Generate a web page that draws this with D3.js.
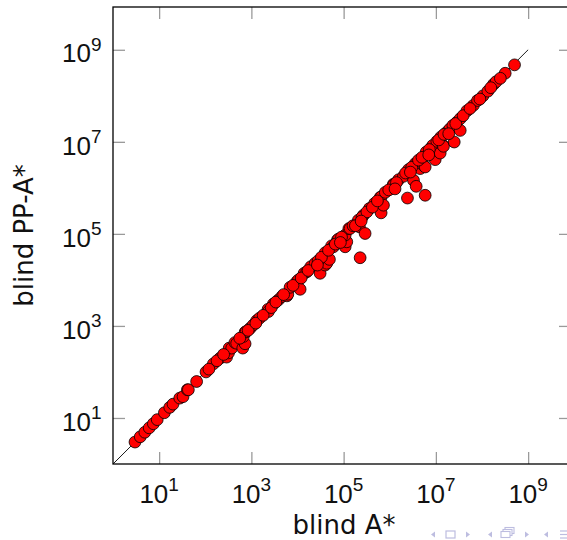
<!DOCTYPE html>
<html>
<head>
<meta charset="utf-8">
<script src="https://cdn.jsdelivr.net/npm/d3@7/dist/d3.min.js"></script>
<style>
  body { margin: 0; background: #fff; }
  svg { display: block; }
</style>
</head>
<body>
<div id="chart"></div>
<script>
// nodes expanded: blind A* (x) vs blind PP-A* (y)
var blindA = [
  3.0, 3.9, 4.9, 6.1, 7.5, 9.1, 13, 17, 20, 28, 33, 41, 43, 65, 104, 150, 210, 290, 320, 330,
  375, 440, 480, 650, 730, 670, 730, 770, 940, 1100, 1300, 1500, 2300, 2340, 3000, 3850, 4560,
  5900, 6170, 6900, 9660, 10500, 11400, 13900, 15900, 19400, 24100, 30900, 39700, 39700, 43000,
  49200, 55000, 60100, 73400, 77000, 108000, 117000, 108000, 130000, 138000, 209000, 220000,
  228000, 269000, 292000, 363000, 470000, 620000, 650000, 650000, 730000, 800000,
  1.2e6, 1.2e6, 1.55e6, 1.98e6, 2.42e6, 2.55e6, 3.27e6, 3.56e6, 3.74e6, 3.87e6, 4.56e6, 5.38e6,
  5.86e6, 5.86e6, 6.17e6, 8.2e6, 8.6e6, 9.66e6, 1.05e7, 1.24e7, 1.28e7, 1.42e7, 1.46e7, 1.73e7,
  2.0e7, 2.34e7, 2.5e7, 2.86e7, 3.37e7, 3.37e7, 4.7e7, 6.5e7, 8.0e7, 1.05e8, 1.34e8, 1.78e8,
  2.03e8, 3.18e8, 5.07e8,
  120, 180, 250, 560, 850, 1250, 1800, 2700, 3400, 5000, 8000, 12000, 17000, 28000, 33000,
  47000, 66000, 90000, 160000, 180000, 250000, 320000, 420000, 540000, 950000, 1.4e6, 2.2e6,
  3.0e6, 4.2e6, 5.0e6, 7.2e6, 1.15e7, 1.5e7, 2.7e7, 3.9e7, 5.5e7, 9.0e7, 1.55e8, 2.5e8,
  27000, 85000, 240000, 1.3e6, 2.8e6, 7.0e6, 1.9e7
];
var blindPPA = [
  3.0, 3.9, 4.9, 6.1, 7.5, 9.2, 13, 17, 20, 27, 29, 41, 41, 62, 100, 150, 200, 210, 260, 330,
  330, 435, 420, 330, 410, 590, 730, 755, 890, 1050, 1300, 1470, 2300, 2050, 3000, 3670, 4330,
  4500, 4880, 6900, 9140, 10000, 6250, 13900, 15000, 19300, 22900, 13900, 21000, 38800, 23000,
  27900, 55000, 52400, 73300, 77000, 52400, 67300, 94000, 130000, 131000, 199000, 142000,
  30300, 255000, 102000, 356000, 460000, 617000, 635000, 286000, 420000, 800000,
  1.2e6, 1.14e6, 1.5e6, 1.78e6, 6.0e5, 2.49e6, 1.46e6, 3.36e6, 1.08e6, 3.36e6, 2.62e6, 3.09e6,
  6.9e5, 2.84e6, 6.0e6, 7.7e6, 8.4e6, 4.1e6, 1.02e7, 5.7e6, 1.27e7, 8.4e6, 8.0e6, 1.63e7,
  1.9e7, 2.27e7, 9.9e6, 2.68e7, 1.77e7, 3.18e7, 4.7e7, 6.2e7, 7.9e7, 1.0e8, 1.26e8, 1.78e8,
  2.03e8, 3.09e8, 4.7e8,
  115, 175, 240, 540, 800, 1150, 1700, 2500, 3300, 4800, 7600, 11000, 16000, 26000, 31000,
  44000, 60000, 85000, 150000, 150000, 230000, 300000, 380000, 520000, 900000, 1.3e6, 2.1e6,
  2.8e6, 4.0e6, 4.6e6, 6.8e6, 1.1e7, 1.45e7, 2.5e7, 3.7e7, 5.3e7, 8.5e7, 1.5e8, 2.4e8,
  21000, 65000, 190000, 9.5e5, 2.2e6, 5.2e6, 1.5e7
];
var tickValues = [1e1, 1e3, 1e5, 1e7, 1e9];
var tickExponents = ['1', '3', '5', '7', '9'];
var diagonal = [1, 1e9];
var axisDomain = [1, 8.5e9];
var xLabel = 'blind A*';
var yLabel = 'blind PP-A*';

var totalWidth = 567;
var totalHeight = 540;
var margin = { top: 7, left: 113 };
var width = 458;
var height = 457;
var tickColor = '#9a9a9a';
var tickFont = '"Liberation Sans", Arial, sans-serif';
var labelFont = '"DejaVu Sans", sans-serif';

var svg = d3.select('#chart').append('svg')
  .attr('width', totalWidth)
  .attr('height', totalHeight);

var g = svg.append('g')
  .attr('transform', 'translate(' + margin.left + ',' + margin.top + ')');

var x = d3.scaleLog().domain(axisDomain).range([0, width]);
var y = d3.scaleLog().domain(axisDomain).range([height, 0]);

// ticks on all four sides, pointing inward
function styleTicks(sel) {
  sel.select('.domain').remove();
  sel.selectAll('.tick line').attr('stroke', tickColor).attr('stroke-width', 1.3);
  sel.selectAll('.tick text').remove();
}
g.append('g').attr('transform', 'translate(0,' + height + ')')
  .call(d3.axisBottom(x).tickValues(tickValues).tickSize(-12).tickFormat(''))
  .call(styleTicks);
g.append('g')
  .call(d3.axisTop(x).tickValues(tickValues).tickSize(-12).tickFormat(''))
  .call(styleTicks);
g.append('g')
  .call(d3.axisLeft(y).tickValues(tickValues).tickSize(-12).tickFormat(''))
  .call(styleTicks);
g.append('g').attr('transform', 'translate(' + width + ',0)')
  .call(d3.axisRight(y).tickValues(tickValues).tickSize(-12).tickFormat(''))
  .call(styleTicks);

// tick labels 10^n
function powerLabel(sel) {
  sel.append('tspan').attr('font-size', 26).text('10');
  sel.append('tspan').attr('font-size', 19).attr('dy', -11.7)
    .text(function (d, i) { return tickExponents[i]; });
}
g.selectAll('.xlab')
  .data(tickValues)
  .enter().append('text')
  .attr('class', 'xlab')
  .attr('x', function (d) { return x(d); })
  .attr('y', height + 39)
  .attr('text-anchor', 'middle')
  .attr('font-family', tickFont)
  .attr('fill', '#111')
  .call(powerLabel);
g.selectAll('.ylab')
  .data(tickValues)
  .enter().append('text')
  .attr('class', 'ylab')
  .attr('x', -11.5)
  .attr('y', function (d) { return y(d) + 12.7; })
  .attr('text-anchor', 'end')
  .attr('font-family', tickFont)
  .attr('fill', '#111')
  .call(powerLabel);

// y = x reference line
g.append('line')
  .attr('x1', x(diagonal[0])).attr('y1', y(diagonal[0]))
  .attr('x2', x(diagonal[1])).attr('y2', y(diagonal[1]))
  .attr('stroke', '#000')
  .attr('stroke-width', 0.9);

// scatter
g.selectAll('.dot')
  .data(blindA)
  .enter().append('circle')
  .attr('class', 'dot')
  .attr('cx', function (d) { return x(d); })
  .attr('cy', function (d, i) { return y(blindPPA[i]); })
  .attr('r', 5.9)
  .attr('fill', '#ff0000')
  .attr('stroke', '#000')
  .attr('stroke-width', 0.8);

// frame
g.append('rect')
  .attr('width', width)
  .attr('height', height)
  .attr('fill', 'none')
  .attr('stroke', '#000')
  .attr('stroke-width', 1.3);

// axis titles
svg.append('text')
  .attr('x', margin.left + width / 2 + 2)
  .attr('y', 534)
  .attr('text-anchor', 'middle')
  .attr('font-family', labelFont)
  .attr('font-size', 26)
  .attr('fill', '#111')
  .text(xLabel);
svg.append('text')
  .attr('transform', 'translate(33,' + (margin.top + height / 2) + ') rotate(-90)')
  .attr('text-anchor', 'middle')
  .attr('font-family', labelFont)
  .attr('font-size', 26)
  .attr('fill', '#111')
  .text(yLabel);

// beamer navigation symbols (bottom right)
var nav = svg.append('g').attr('fill', '#bdbde0').attr('stroke', '#bdbde0');
function triangle(cx, dir) {
  nav.append('path')
    .attr('d', 'M' + (cx - 2 * dir) + ',534.5 L' + (cx + 2 * dir) + ',531.5 L' + (cx + 2 * dir) + ',537.5 Z')
    .attr('stroke', 'none');
}
triangle(433, 1);
triangle(468, -1);
triangle(490, 1);
triangle(527, -1);
triangle(546, 1);
nav.append('rect').attr('x', 446).attr('y', 531).attr('width', 9).attr('height', 7)
  .attr('fill', 'none').attr('stroke-width', 1.2);
nav.append('rect').attr('x', 505).attr('y', 527.5).attr('width', 9).attr('height', 6)
  .attr('fill', '#fff').attr('stroke-width', 1.1);
nav.append('rect').attr('x', 503).attr('y', 529.5).attr('width', 9).attr('height', 6)
  .attr('fill', '#fff').attr('stroke-width', 1.1);
nav.append('rect').attr('x', 501).attr('y', 531.5).attr('width', 9).attr('height', 6)
  .attr('fill', '#fff').attr('stroke-width', 1.1);
[531, 534.5, 538].forEach(function (yy) {
  nav.append('line').attr('x1', 560).attr('x2', 567).attr('y1', yy).attr('y2', yy)
    .attr('stroke-width', 1.2);
});
</script>
</body>
</html>
